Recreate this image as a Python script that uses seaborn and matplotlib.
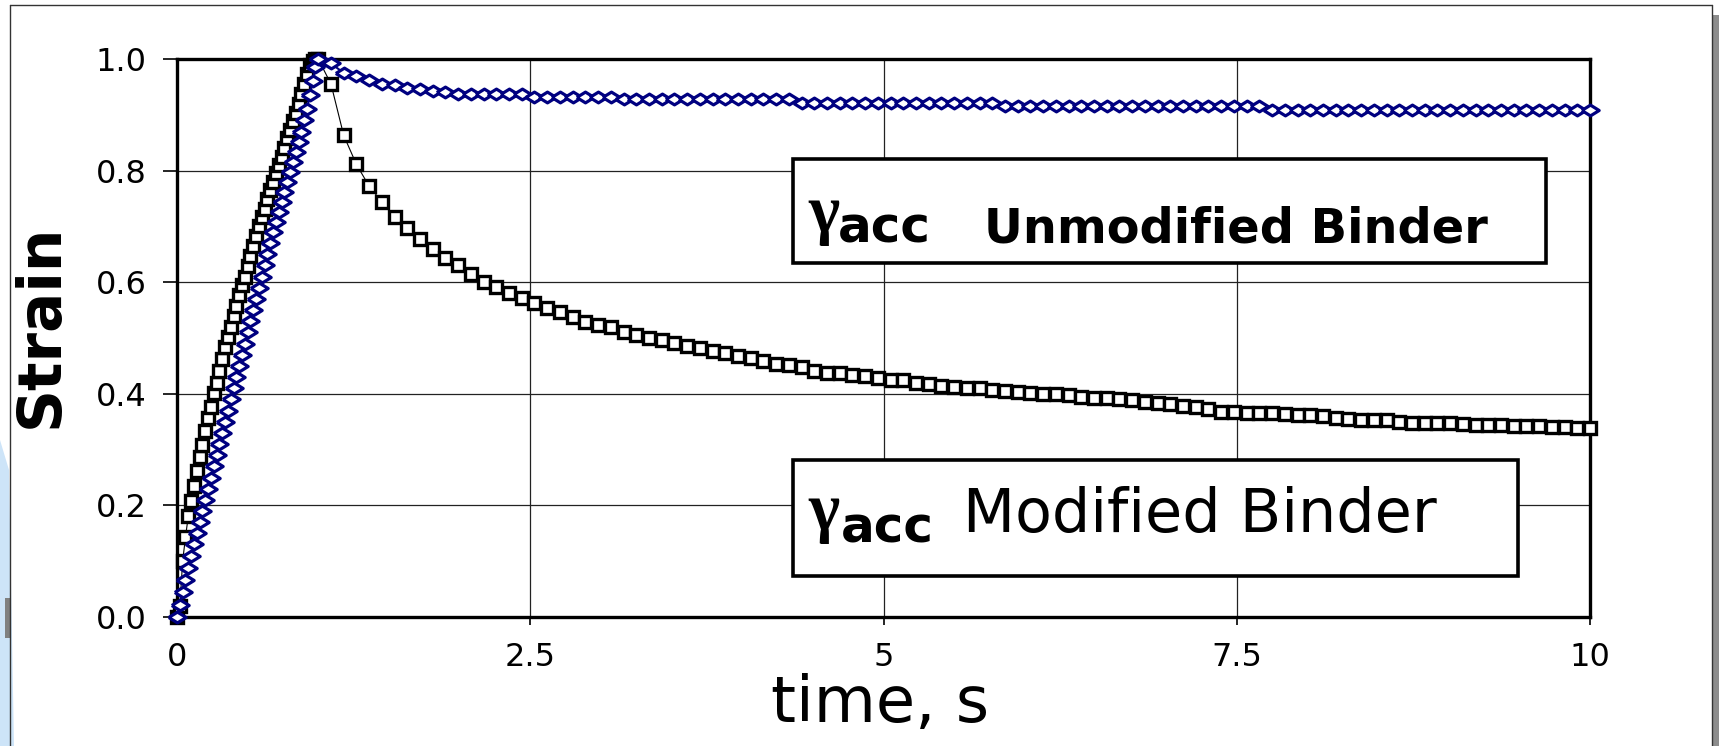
import matplotlib
matplotlib.use("Agg")
import matplotlib.pyplot as plt
from matplotlib.patches import Rectangle, Polygon
from matplotlib.lines import Line2D
import pandas as pd
import seaborn as sns

# ---------------- data ----------------
ramp_time = [0.00, 0.02, 0.04, 0.06, 0.08, 0.10, 0.12, 0.14, 0.16, 0.18,
             0.20, 0.22, 0.24, 0.26, 0.28, 0.30, 0.32, 0.34, 0.36, 0.38,
             0.40, 0.42, 0.44, 0.46, 0.48, 0.50, 0.52, 0.54, 0.56, 0.58,
             0.60, 0.62, 0.64, 0.66, 0.68, 0.70, 0.72, 0.74, 0.76, 0.78,
             0.80, 0.82, 0.84, 0.86, 0.88, 0.90, 0.92, 0.94, 0.96, 0.98]

hold_time = [1.00, 1.09, 1.18, 1.27, 1.36, 1.45, 1.54, 1.63, 1.72, 1.81,
             1.90, 1.99, 2.08, 2.17, 2.26, 2.35, 2.44, 2.53, 2.62, 2.71,
             2.80, 2.89, 2.98, 3.07, 3.16, 3.25, 3.34, 3.43, 3.52, 3.61,
             3.70, 3.79, 3.88, 3.97, 4.06, 4.15, 4.24, 4.33, 4.42, 4.51,
             4.60, 4.69, 4.78, 4.87, 4.96, 5.05, 5.14, 5.23, 5.32, 5.41,
             5.50, 5.59, 5.68, 5.77, 5.86, 5.95, 6.04, 6.13, 6.22, 6.31,
             6.40, 6.49, 6.58, 6.67, 6.76, 6.85, 6.94, 7.03, 7.12, 7.21,
             7.30, 7.39, 7.48, 7.57, 7.66, 7.75, 7.84, 7.93, 8.02, 8.11,
             8.20, 8.29, 8.38, 8.47, 8.56, 8.65, 8.74, 8.83, 8.92, 9.01,
             9.10, 9.19, 9.28, 9.37, 9.46, 9.55, 9.64, 9.73, 9.82, 9.91,
             10.00]

# Modified binder (black squares)
mod_ramp = [0.000, 0.020, 0.100, 0.143, 0.181, 0.208, 0.234, 0.262, 0.286, 0.308,
            0.334, 0.356, 0.377, 0.401, 0.420, 0.441, 0.462, 0.483, 0.502, 0.520,
            0.539, 0.557, 0.577, 0.595, 0.610, 0.629, 0.647, 0.665, 0.682, 0.700,
            0.717, 0.732, 0.750, 0.765, 0.780, 0.795, 0.810, 0.825, 0.840, 0.858,
            0.873, 0.888, 0.903, 0.920, 0.938, 0.956, 0.974, 0.990, 0.996, 1.000]

mod_hold = [1.000, 0.955, 0.863, 0.811, 0.772, 0.744, 0.716, 0.697, 0.677, 0.659,
            0.643, 0.630, 0.615, 0.600, 0.592, 0.581, 0.571, 0.562, 0.553, 0.547,
            0.538, 0.529, 0.524, 0.519, 0.511, 0.505, 0.500, 0.496, 0.491, 0.486,
            0.482, 0.477, 0.473, 0.468, 0.464, 0.458, 0.453, 0.452, 0.448, 0.441,
            0.438, 0.437, 0.434, 0.432, 0.428, 0.424, 0.424, 0.419, 0.418, 0.414,
            0.413, 0.410, 0.410, 0.407, 0.405, 0.404, 0.402, 0.400, 0.399, 0.397,
            0.395, 0.393, 0.392, 0.390, 0.388, 0.385, 0.383, 0.381, 0.379, 0.377,
            0.372, 0.368, 0.368, 0.366, 0.365, 0.365, 0.363, 0.362, 0.362, 0.360,
            0.357, 0.355, 0.353, 0.353, 0.353, 0.350, 0.348, 0.347, 0.347, 0.347,
            0.346, 0.344, 0.344, 0.344, 0.343, 0.342, 0.342, 0.341, 0.340, 0.339,
            0.339]

# Unmodified binder (blue diamonds)
unmod_ramp = [0.000, 0.022, 0.044, 0.066, 0.088, 0.110, 0.130, 0.150, 0.170, 0.190,
              0.210, 0.230, 0.250, 0.270, 0.290, 0.310, 0.330, 0.350, 0.370, 0.390,
              0.410, 0.430, 0.450, 0.470, 0.490, 0.510, 0.530, 0.550, 0.570, 0.590,
              0.610, 0.630, 0.650, 0.670, 0.690, 0.708, 0.726, 0.744, 0.762, 0.780,
              0.798, 0.816, 0.834, 0.852, 0.870, 0.890, 0.910, 0.935, 0.960, 0.985]

unmod_hold = [1.000, 0.992, 0.975, 0.969, 0.962, 0.956, 0.953, 0.948, 0.946, 0.943,
              0.941, 0.938, 0.938, 0.938, 0.938, 0.938, 0.938, 0.932, 0.932, 0.932,
              0.932, 0.932, 0.932, 0.932, 0.928, 0.928, 0.928, 0.928, 0.928, 0.928,
              0.928, 0.928, 0.928, 0.928, 0.928, 0.928, 0.928, 0.928, 0.922, 0.922,
              0.922, 0.922, 0.922, 0.922, 0.922, 0.922, 0.922, 0.922, 0.922, 0.922,
              0.922, 0.922, 0.922, 0.922, 0.916, 0.916, 0.916, 0.916, 0.916, 0.916,
              0.916, 0.916, 0.916, 0.916, 0.916, 0.916, 0.916, 0.916, 0.916, 0.916,
              0.916, 0.916, 0.916, 0.916, 0.916, 0.909, 0.909, 0.909, 0.909, 0.909,
              0.909, 0.909, 0.909, 0.909, 0.909, 0.909, 0.909, 0.909, 0.909, 0.909,
              0.909, 0.909, 0.909, 0.909, 0.909, 0.909, 0.909, 0.909, 0.909, 0.909,
              0.909]

x_ticks = [0, 2.5, 5, 7.5, 10]
x_tick_labels = ["0", "2.5", "5", "7.5", "10"]
y_ticks = [0.0, 0.2, 0.4, 0.6, 0.8, 1.0]
y_tick_labels = ["0.0", "0.2", "0.4", "0.6", "0.8", "1.0"]

df_mod = pd.DataFrame({"time": ramp_time + hold_time, "strain": mod_ramp + mod_hold})
df_unmod = pd.DataFrame({"time": ramp_time + hold_time, "strain": unmod_ramp + unmod_hold})

# ---------------- style ----------------
sns.set_theme(style="white")
plt.rcParams["font.family"] = ["DejaVu Sans"]
plt.rcParams["text.color"] = "black"
plt.rcParams["xtick.color"] = "black"
plt.rcParams["ytick.color"] = "black"
plt.rcParams["axes.labelcolor"] = "black"

W, H = 1719, 746
fig = plt.figure(figsize=(W / 100, H / 100), dpi=100, facecolor="white")
ax = fig.add_axes([177 / W, 1 - 617 / H, (1590 - 177) / W, (617 - 59) / H])
ax.set_facecolor("white")

navy = "#000080"
diamond = [(-1, 0), (0, 0.62), (1, 0), (0, -0.62), (-1, 0)]

sns.lineplot(data=df_mod, x="time", y="strain", ax=ax, estimator=None, sort=False,
             color="black", lw=0.8, marker="s", markersize=9,
             markerfacecolor="white", markeredgecolor="black", markeredgewidth=2.4,
             clip_on=False, zorder=3)
sns.lineplot(data=df_unmod, x="time", y="strain", ax=ax, estimator=None, sort=False,
             color=navy, lw=1.5, marker=diamond, markersize=12.5,
             markerfacecolor="white", markeredgecolor=navy, markeredgewidth=2.3,
             clip_on=False, zorder=4)

ax.set_xlim(0, 10)
ax.set_ylim(0, 1)
ax.set_xticks(x_ticks)
ax.set_xticklabels(x_tick_labels)
ax.set_yticks(y_ticks)
ax.set_yticklabels(y_tick_labels)
ax.set_xlabel("")
ax.set_ylabel("")
ax.grid(True, color="#222222", lw=0.9)
ax.set_axisbelow(True)
for s in ax.spines.values():
    s.set_visible(True)
    s.set_color("black")
    s.set_linewidth(2.4)
ax.tick_params(axis="y", direction="out", length=10, width=1.2, color="black",
               labelcolor="black", labelsize=23, pad=12, left=True)
ax.tick_params(axis="x", direction="out", length=6, width=1.2, color="black",
               labelcolor="black", labelsize=23, pad=12, bottom=True)

# label boxes
ax.add_patch(Rectangle((0.436, 0.634), 0.533, 0.187, transform=ax.transAxes,
                       facecolor="white", edgecolor="black", lw=2.6, zorder=5))
ax.add_patch(Rectangle((0.436, 0.073), 0.513, 0.208, transform=ax.transAxes,
                       facecolor="white", edgecolor="black", lw=2.6, zorder=5))

gam = dict(family=["Liberation Serif", "DejaVu Serif"], fontsize=48, fontweight="bold",
           transform=ax.transAxes, va="baseline", ha="left", zorder=6, color="black")
ax.text(0.447, 0.690, "γ", **gam)
ax.text(0.447, 0.156, "γ", **gam)
ax.text(0.468, 0.672, "acc", fontsize=36, fontweight="bold", transform=ax.transAxes,
        va="baseline", ha="left", zorder=6, color="black")
ax.text(0.470, 0.133, "acc", fontsize=36, fontweight="bold", transform=ax.transAxes,
        va="baseline", ha="left", zorder=6, color="black")
ax.text(0.571, 0.672, "Unmodified Binder", fontsize=34.5, fontweight="bold",
        transform=ax.transAxes, va="baseline", ha="left", zorder=6, color="black")
ax.text(0.556, 0.152, "Modified Binder", fontsize=43.5,
        transform=ax.transAxes, va="baseline", ha="left", zorder=6, color="black")

# axis titles
fig.text(41 / W, 1 - 326 / H, "Strain", rotation=90, fontsize=43, fontweight="bold",
         ha="center", va="center", color="black")
fig.text(880 / W, 24 / H, "time, s", fontsize=46, ha="center", va="baseline",
         color="black")

# slide frame decorations
fig.add_artist(Polygon([(0, 0), (0, 1 - 440 / H), (9 / W, 1 - 470 / H), (14 / W, 0)],
                       closed=True, transform=fig.transFigure,
                       facecolor="#cde4f8", edgecolor="none"))
fig.add_artist(Rectangle((5 / W, 1 - 638 / H), 5 / W, 40 / H, transform=fig.transFigure,
                         facecolor="#808080", edgecolor="none"))
fig.add_artist(Rectangle((1713 / W, 0), 6 / W, 1 - 15 / H, transform=fig.transFigure,
                         facecolor="#8c8c8c", edgecolor="none"))
fig.add_artist(Line2D([10 / W, 10 / W], [0, 1 - 5 / H], transform=fig.transFigure,
                      color="#333333", lw=1.0))
fig.add_artist(Line2D([10 / W, 1712 / W], [1 - 5 / H, 1 - 5 / H], transform=fig.transFigure,
                      color="#333333", lw=1.0))
fig.add_artist(Line2D([1712 / W, 1712 / W], [0, 1 - 5 / H], transform=fig.transFigure,
                      color="#333333", lw=1.0))

fig.savefig("out.png", dpi=100, facecolor="white")
